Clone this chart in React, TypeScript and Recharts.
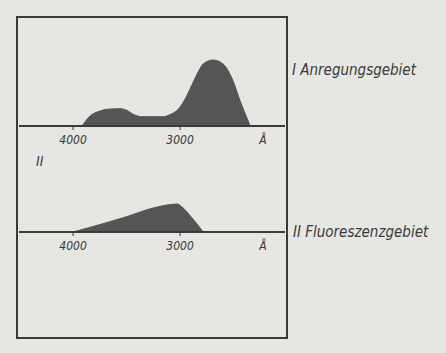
import React from "react";
import { AreaChart, Area, XAxis, YAxis } from "recharts";

// Panel I: excitation region (wavelength in Å, relative intensity)
const wavelengthsI = [3916, 3841, 3748, 3682, 3561, 3486, 3439, 3346, 3159, 3093, 3047, 3000, 2953, 2907, 2841, 2785, 2692, 2598, 2505, 2439, 2364, 2346];
const intensityI = [0, 10, 15, 16.7, 17.3, 15, 11.7, 9.3, 9.3, 11.5, 14, 19, 27, 37, 52, 62, 66, 62, 45, 25, 5, 0];

// Panel II: fluorescence region
const wavelengthsII = [4000, 3813, 3495, 3252, 3121, 3028, 2972, 2888, 2813, 2785];
const intensityII = [0, 5.5, 15.5, 24, 27, 28, 24, 14, 4, 0];

const tickValues = [4000, 3000, 2225];
const tickLabels = ["4000", "3000", "Å"];
const labelI = "I Anregungsgebiet";
const labelII = "II Fluoreszenzgebiet";
const panelMark = "II";

const dataI = wavelengthsI.map((wl, i) => ({ wl, v: intensityI[i] }));
const dataII = wavelengthsII.map((wl, i) => ({ wl, v: intensityII[i] }));

const INK = "#3a3a3a";
const FILL = "#555555";
const BG = "#e6e6e3";
const FONT = "'DejaVu Sans Condensed', 'DejaVu Sans', sans-serif";

const Tick = (props: any) => {
  const { x, y, payload } = props;
  const idx = tickValues.indexOf(payload.value);
  const label = idx >= 0 ? tickLabels[idx] : String(payload.value);
  return (
    <g>
      {label !== "Å" && <line x1={x} x2={x} y1={y - 8} y2={y - 4} stroke={INK} strokeWidth={1} />}
      <text x={x} y={y + 10} textAnchor="middle" fontFamily={FONT} fontStyle="italic" fontSize={12} fill={INK}>
        {label}
      </text>
    </g>
  );
};

function Panel({ data, maxY, plotH, top }: { data: any[]; maxY: number; plotH: number; top: number }) {
  return (
    <div style={{ position: "absolute", left: 19, top }}>
      <AreaChart width={266} height={plotH + 30} data={data} margin={{ top: 0, right: 0, left: 0, bottom: 0 }}>
        <XAxis
          dataKey="wl"
          type="number"
          domain={[2020, 4505]}
          reversed
          ticks={tickValues}
          tick={<Tick />}
          tickLine={false}
          axisLine={{ stroke: INK, strokeWidth: 2 }}
          height={30}
          allowDataOverflow
        />
        <YAxis hide domain={[0, maxY]} allowDataOverflow />
        <Area
          type="monotone"
          dataKey="v"
          stroke={FILL}
          strokeWidth={1}
          fill={FILL}
          fillOpacity={1}
          isAnimationActive={false}
          dot={false}
          activeDot={false}
        />
      </AreaChart>
    </div>
  );
}

export default function App() {
  return (
    <div style={{ position: "absolute", left: 0, top: 0, width: 446, height: 353, background: BG, overflow: "hidden" }}>
      <div
        style={{
          position: "absolute",
          left: 16,
          top: 16,
          width: 268,
          height: 319,
          border: `2px solid ${INK}`,
        }}
      />
      <Panel data={dataI} maxY={108} plotH={108} top={18} />
      <Panel data={dataII} maxY={52} plotH={52} top={180} />
      <div style={{ position: "absolute", left: 36, top: 153, fontFamily: FONT, fontStyle: "italic", fontSize: 14, color: INK }}>
        {panelMark}
      </div>
      <div style={{ position: "absolute", left: 292, top: 61, fontFamily: FONT, fontStyle: "italic", fontSize: 15, color: INK, whiteSpace: "nowrap" }}>
        {labelI}
      </div>
      <div style={{ position: "absolute", left: 293, top: 223, fontFamily: FONT, fontStyle: "italic", fontSize: 15, color: INK, whiteSpace: "nowrap" }}>
        {labelII}
      </div>
    </div>
  );
}
